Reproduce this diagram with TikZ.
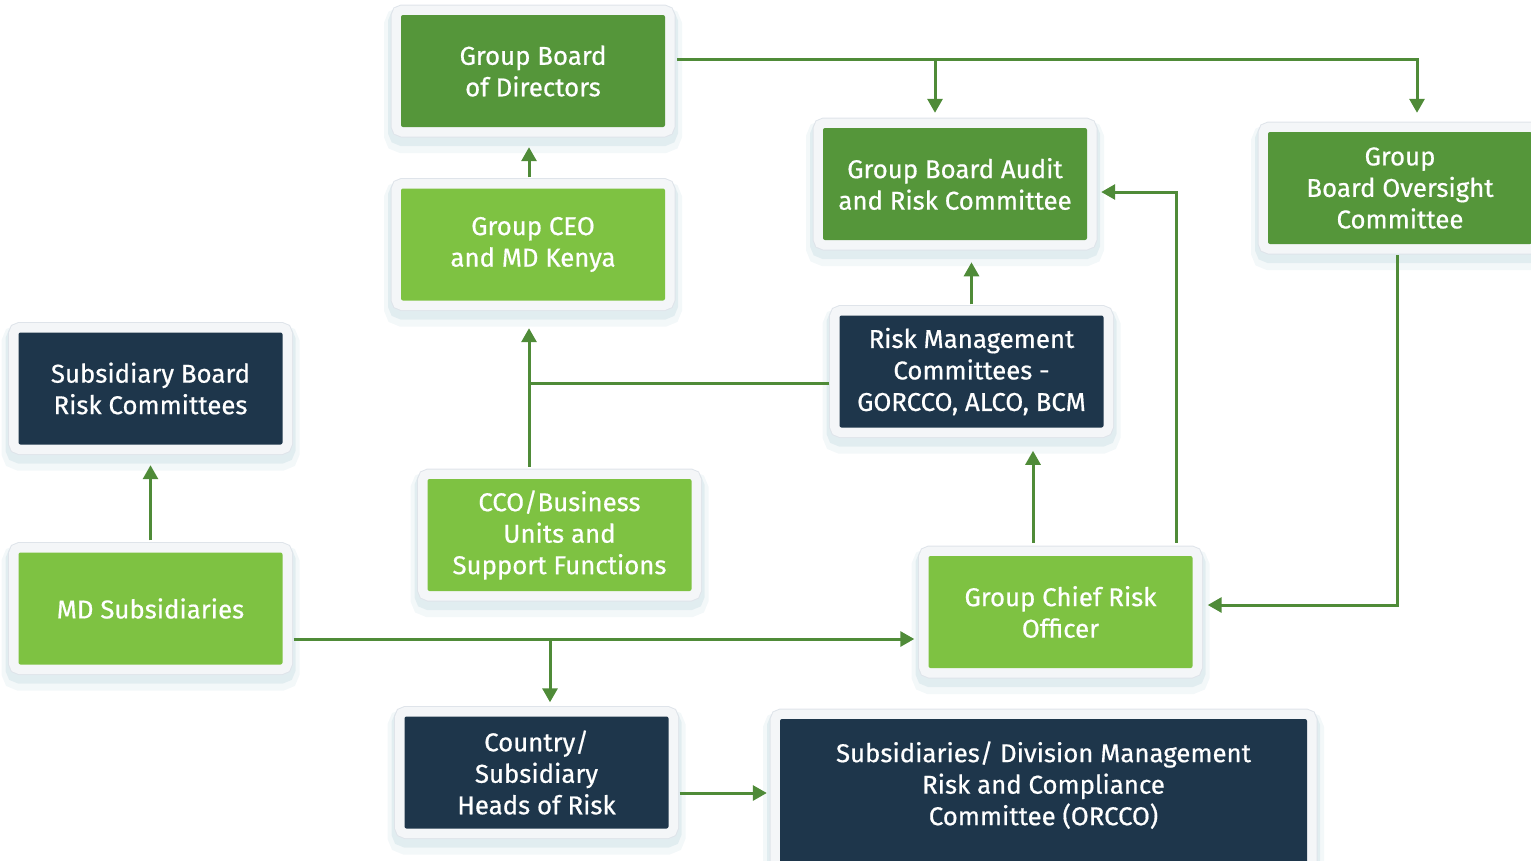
\documentclass[tikz,border=0pt]{standalone}
\usepackage{fontspec}
\setmainfont{Fira Sans}[FakeBold=0.6]
\usetikzlibrary{arrows.meta}
\usetikzlibrary{positioning}

\definecolor{leafgreen}{HTML}{7EC242}
\definecolor{forestgreen}{HTML}{55963A}
\definecolor{deepnavy}{HTML}{1E364B}
\definecolor{wiregreen}{HTML}{4F8B38}
\definecolor{rimgray}{HTML}{DFE4EA}
\definecolor{rimwhite}{HTML}{F4F6F8}
\definecolor{haze}{HTML}{9CC2CE}

\tikzset{
  boxfont/.style={text=white, align=center, font=\fontsize{25.8}{31.5}\selectfont},
  panel/.style={rectangle, rounded corners=2pt, boxfont,
    minimum width=264pt, minimum height=112pt,
    % soft shadow, then the light frame round each box
    preaction={draw=haze, line width=34pt, opacity=0.12, transform canvas={yshift=-9pt}},
    preaction={draw=haze, line width=26pt, opacity=0.20, transform canvas={yshift=-6pt}},
    preaction={draw=rimgray, line width=21pt},
    preaction={draw=rimwhite, line width=19pt}},
  flow/.style={draw=wiregreen, line width=3pt, -{Triangle[length=14pt,width=15pt]}},
  link/.style={draw=wiregreen, line width=3pt}
}

\begin{document}
\begin{tikzpicture}[x=1pt, y=-1pt]
\useasboundingbox (0,0) rectangle (1531,860);

% boxes
\node[panel, fill=forestgreen] (gbd) at (533,71) {Group Board\\of Directors};
\node[panel, fill=leafgreen] (ceo) at (533,244.5) {Group CEO\\and MD Kenya};
\node[panel, fill=forestgreen] (audit) at (955,184) {Group Board Audit\\and Risk Committee};
\node[panel, fill=forestgreen] (gboc) at (1400,188) {Group\\Board Oversight\\Committee};
\node[panel, fill=deepnavy] (sbrc) at (150.5,388.5) {Subsidiary Board\\Risk Committees};
\node[panel, fill=deepnavy] (rmc) at (971.5,371.5) {Risk Management\\Committees -\\GORCCO, ALCO, BCM};
\node[panel, fill=leafgreen] (cco) at (559.5,535) {CCO/Business\\Units and\\Support Functions};
\node[panel, fill=leafgreen] (mds) at (150.5,608.5) {MD Subsidiaries};
\node[panel, fill=leafgreen] (gcro) at (1060.5,612) {Group Chief Risk\\Officer};
\node[panel, fill=deepnavy] (chr) at (536.5,772.5) {Country/\\Subsidiary\\Heads of Risk};
\node[panel, fill=deepnavy, minimum width=527pt, minimum height=180pt] (sdm) at (1043.5,809) {};
\node[boxfont, below=19pt of sdm.north] (sdmtext) {Subsidiaries/ Division Management\\Risk and Compliance\\Committee (ORCCO)};

% board level
\draw[flow] ([xshift=12pt,yshift=12pt]gbd.east) -| ([xshift=17pt,yshift=19pt]gboc.north);
\draw[flow] ([xshift=-20pt,yshift=69pt]audit.north) -- ([xshift=-20pt,yshift=15pt]audit.north);
\draw[flow] ([xshift=-4pt,yshift=11pt]ceo.north) -- ([xshift=-4pt,yshift=-20pt]gbd.south);

% management level
\draw[flow] ([xshift=-30.5pt,yshift=12pt]cco.north) -- ([xshift=-4pt,yshift=-27.5pt]ceo.south);
\draw[link] ([xshift=-10pt,yshift=-11.5pt]rmc.west) -- ++(-301,0);
\draw[flow] ([yshift=11pt]rmc.north) -- ++(0,-42);
\draw[flow] ([xshift=-27.5pt,yshift=13pt]gcro.north) -- ++(0,-92);
\draw[flow] ([xshift=115.5pt,yshift=13pt]gcro.north) |- ([xshift=14pt,yshift=-8pt]audit.east);
\draw[flow] ([xshift=-3pt,yshift=-11pt]gboc.south) |- ([xshift=15pt,yshift=7pt]gcro.east);

% subsidiaries
\draw[flow] ([yshift=12pt]mds.north) -- ([yshift=-20.5pt]sbrc.south);
\draw[flow] ([xshift=11pt,yshift=-30.5pt]mds.east) -- ([xshift=-14pt,yshift=-27pt]gcro.west);
\draw[flow] ([xshift=13.5pt,yshift=78pt]chr.north) -- ([xshift=13.5pt,yshift=14pt]chr.north);
\draw[flow] ([xshift=11pt,yshift=-20.5pt]chr.east) -- ([xshift=-13pt,yshift=16pt]sdm.west);
\end{tikzpicture}
\end{document}
